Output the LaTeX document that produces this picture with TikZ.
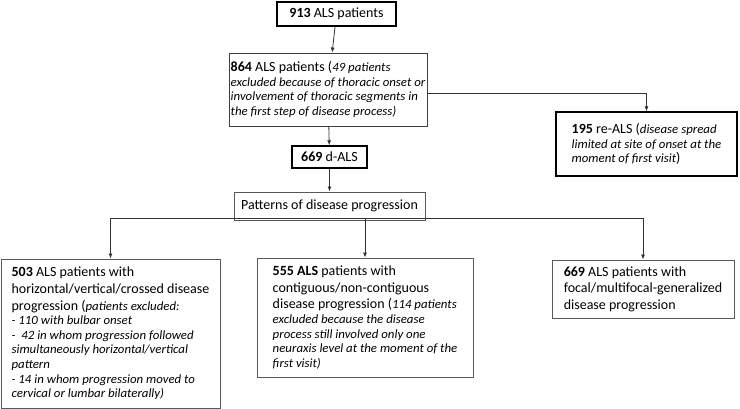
\documentclass[tikz,border=0pt]{standalone}
\usepackage{fontspec}
\setmainfont{Carlito}
\newfontfamily\exfont[FakeStretch=1.02]{Carlito}
\usetikzlibrary{arrows.meta}

\newcommand{\exc}[1]{{\exfont\fontsize{12.6}{14.6}\selectfont\itshape #1}}

\begin{document}
\begin{tikzpicture}[x=1pt, y=-1pt,
    font=\fontsize{14}{14.6}\selectfont,
    box/.style={rectangle, draw=black!65, line width=0.9pt, align=left, inner sep=0pt},
    darkbox/.style={box, draw=black, line width=1.3pt},
    arr/.style={-{Latex[length=5pt, width=4pt]}, line width=0.8pt, draw=black!80}]
    \useasboundingbox (0,0) rectangle (740,409);

    % Kästen
    \node[darkbox, minimum width=119, minimum height=24] (n913) at (336.5, 14) {\textbf{913} ALS patients};
    \node[box, draw=black!75, minimum width=198, minimum height=73] (n864) at (328, 89.5)
        {\textbf{864} ALS patients (\exc{49 patients}\\
         \exc{excluded because of thoracic onset or}\\
         \exc{involvement of thoracic segments in}\\
         \exc{the first step of disease process)}};
    \node[darkbox, minimum width=181, minimum height=64] (n195) at (646.5, 144)
        {\textbf{195} re-ALS (\exc{disease spread}\\
         \exc{limited at site of onset at the}\\
         \exc{moment of first visit})};
    \node[darkbox, minimum width=75, minimum height=22] (dALS) at (329.5, 157) {\textbf{669} d-ALS};
    \node[box, minimum width=191, minimum height=28] (pat) at (329.5, 206) {Patterns of disease progression};

    \node[box, minimum width=219, minimum height=149] (b503) at (110.5, 333.5)
        {\textbf{503} ALS patients with\\[2pt]
         horizontal/vertical/crossed disease\\[2pt]
         progression (\exc{patients excluded:}\\
         \exc{- 110 with bulbar onset}\\
         \exc{-\ \ 42 in whom progression followed}\\
         \exc{simultaneously horizontal/vertical}\\
         \exc{pattern}\\
         \exc{- 14 in whom progression moved to}\\
         \exc{cervical or lumbar bilaterally)}};
    \node[box, minimum width=216, minimum height=119] (b555) at (365, 317.5)
        {\textbf{555 ALS} patients with\\[2pt]
         contiguous/non-contiguous\\[2pt]
         disease progression (\exc{114 patients}\\
         \exc{excluded because the disease}\\
         \exc{process still involved only one}\\
         \exc{neuraxis level at the moment of the}\\
         \exc{first visit)}};
    \node[box, minimum width=182, minimum height=58] (b669) at (643, 289)
        {\textbf{669} ALS patients with\\[2pt]
         focal/multifocal-generalized\\[2pt]
         disease progression};

    % Pfeile
    \draw[arr] (n913) -- (n864);
    \draw[arr] (n864) -- (dALS);
    \draw[arr] ([yshift=-4]n864.east) -| (n195.north);
    \draw[arr] (dALS) -- (pat);
    \draw[arr] ([yshift=2]pat.south) -| (b503.north);
    \draw[arr] ([yshift=2]pat.south) -| (b669.north);
    \draw[arr] ([yshift=2]pat.south -| b555.north) -- (b555.north);
\end{tikzpicture}
\end{document}
